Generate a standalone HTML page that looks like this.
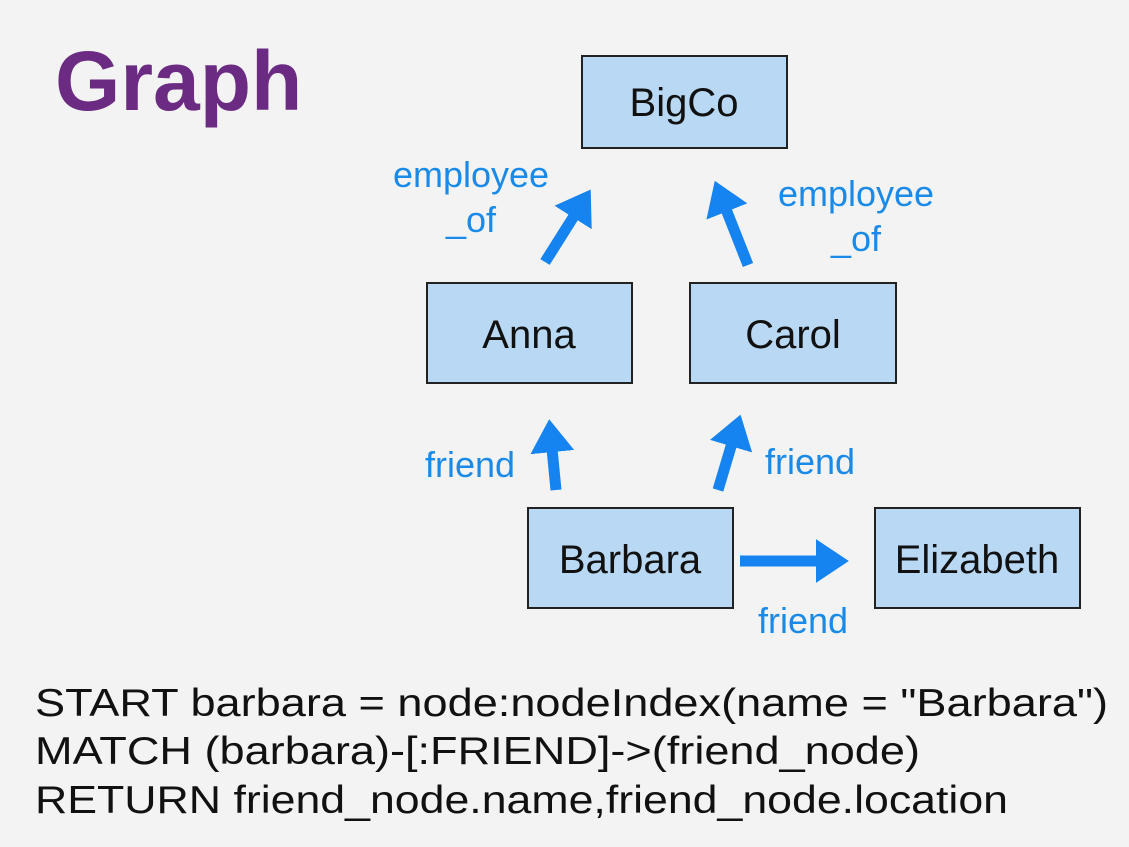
<!DOCTYPE html>
<html><head><meta charset="utf-8"><style>
html,body{margin:0;padding:0;background:#f3f3f3;}
svg{display:block;}
</style></head><body>
<svg width="1129" height="847" viewBox="0 0 1129 847" xmlns="http://www.w3.org/2000/svg" font-family="Liberation Sans, sans-serif">
<defs>
<marker id="ah" markerWidth="4" markerHeight="4" refX="2.2" refY="2" orient="auto" markerUnits="strokeWidth">
<path d="M0,0 L3,2 L0,4 Z" fill="#1583f0"/>
</marker>
</defs>
<rect width="1129" height="847" fill="#f3f3f3"/>
<text x="55" y="110" font-size="84" font-weight="bold" fill="#6b2b82">Graph</text>
<g fill="#b8d8f4" stroke="#222" stroke-width="2">
<rect x="582" y="56" width="205" height="92"/>
<rect x="427" y="283" width="205" height="100"/>
<rect x="690" y="283" width="206" height="100"/>
<rect x="528" y="508" width="205" height="100"/>
<rect x="875" y="508" width="205" height="100"/>
</g>
<g font-size="40" fill="#111" text-anchor="middle">
<text x="684" y="116">BigCo</text>
<text x="529" y="348">Anna</text>
<text x="793" y="348">Carol</text>
<text x="630" y="573">Barbara</text>
<text x="977" y="573">Elizabeth</text>
</g>
<g stroke="#1583f0" stroke-width="11" marker-end="url(#ah)" fill="none">
<line x1="545" y1="262" x2="586" y2="197"/>
<line x1="748" y1="265" x2="718" y2="189"/>
<line x1="556" y1="490" x2="550" y2="428"/>
<line x1="718" y1="490" x2="738" y2="423"/>
<line x1="740" y1="561" x2="840" y2="561"/>
</g>
<g font-size="36" fill="#1a8ae8" text-anchor="middle">
<text x="471" y="187">employee</text>
<text x="471" y="232">_of</text>
<text x="856" y="206">employee</text>
<text x="856" y="251">_of</text>
<text x="470" y="477">friend</text>
<text x="810" y="474">friend</text>
<text x="803" y="633">friend</text>
</g>
<g font-size="39" fill="#111">
<text x="35" y="716" textLength="1073" lengthAdjust="spacingAndGlyphs">START barbara = node:nodeIndex(name = "Barbara")</text>
<text x="35" y="764" textLength="885" lengthAdjust="spacingAndGlyphs">MATCH (barbara)-[:FRIEND]-&gt;(friend_node)</text>
<text x="35" y="813" textLength="973" lengthAdjust="spacingAndGlyphs">RETURN friend_node.name,friend_node.location</text>
</g>
</svg>
</body></html>
